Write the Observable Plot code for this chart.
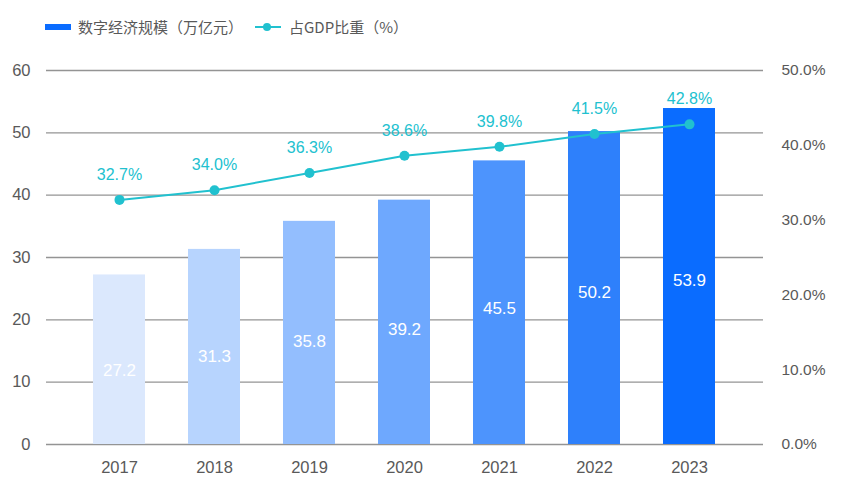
<!DOCTYPE html>
<html>
<head>
<meta charset="utf-8">
<script src="https://cdn.jsdelivr.net/npm/d3@7"></script>
<script src="https://cdn.jsdelivr.net/npm/@observablehq/plot@0.6"></script>
<style>
  body { margin: 0; background: #fff; font-family: "Noto Sans CJK SC", "Liberation Sans", Arial, sans-serif; }
  #legend { position: relative; height: 50px; font-size: 15px; color: #595959; }
  .lg { position: absolute; top: 16px; display: flex; align-items: center; white-space: nowrap; }
  svg { display: block; }
</style>
</head>
<body>
<div id="legend">
  <div class="lg" style="left:45px;">
    <svg width="26" height="8" style="margin-right:7px"><rect x="0" y="1" width="26" height="6" fill="#0a6cff"></rect></svg>
    <span>数字经济规模（万亿元）</span>
  </div>
  <div class="lg" style="left:255px;">
    <svg width="26" height="10" style="margin-right:8px"><line x1="0" x2="26" y1="5" y2="5" stroke="#21c1cf" stroke-width="2"></line><circle cx="12" cy="5" r="4" fill="#21c1cf"></circle></svg>
    <span>占GDP比重（%）</span>
  </div>
</div>
<div id="chart"></div>
<script>
const years = ["2017", "2018", "2019", "2020", "2021", "2022", "2023"];
const scale = [27.2, 31.3, 35.8, 39.2, 45.5, 50.2, 53.9];
const share = [32.7, 34.0, 36.3, 38.6, 39.8, 41.5, 42.8];
const barColors = ["#dbe8fd", "#b7d4fe", "#93befe", "#6ea8fe", "#4d94fd", "#2e80fb", "#0a6cff"];
const leftTicks = [0, 10, 20, 30, 40, 50, 60];
const rightTicks = [0, 10, 20, 30, 40, 50];
const ratio = 60 / 50; // right axis 0–50% spans same height as left 0–60

const data = years.map((y, i) => ({year: y, value: scale[i], pct: share[i], color: barColors[i]}));
const lineColor = "#21c1cf";

const chart = Plot.plot({
  width: 847,
  height: 450,
  marginTop: 20,
  marginBottom: 56,
  marginLeft: 46,
  marginRight: 84,
  style: {fontFamily: "'Liberation Sans', Arial, sans-serif", fontSize: "15px", color: "#595959", background: "#fff"},
  x: {domain: years, padding: 0.456, insetLeft: 1.5, insetRight: 2.5, label: null},
  y: {domain: [0, 60], label: null},
  marks: [
    Plot.ruleY(leftTicks, {stroke: "#949494", strokeWidth: 1.3}),
    Plot.barY(data, {x: "year", y: "value", fill: "color"}),
    Plot.text(data, {x: "year", y: d => d.value * 0.54 - 2.8, text: d => d.value.toFixed(1), fill: "#fff", fontSize: 17}),
    Plot.line(data, {x: "year", y: d => d.pct * ratio, stroke: lineColor, strokeWidth: 2}),
    Plot.dot(data, {x: "year", y: d => d.pct * ratio, r: 5, fill: lineColor}),
    Plot.text(data, {x: "year", y: d => d.pct * ratio, text: d => d.pct.toFixed(1) + "%", fill: lineColor, fontSize: 16, dy: -25}),
    Plot.axisX({tickSize: 0, tickPadding: 17, fontSize: 16.5, fill: "#595959"}),
    Plot.axisY({ticks: leftTicks, tickSize: 0, tickPadding: 16, fontSize: 16.5, fill: "#595959", label: null}),
    Plot.axisY({anchor: "right", ticks: rightTicks.map(t => t * ratio), tickFormat: d => (d / ratio).toFixed(1) + "%", tickSize: 0, tickPadding: 18, fontSize: 15.5, fill: "#595959", label: null})
  ]
});
document.getElementById("chart").appendChild(chart);
</script>
</body>
</html>
